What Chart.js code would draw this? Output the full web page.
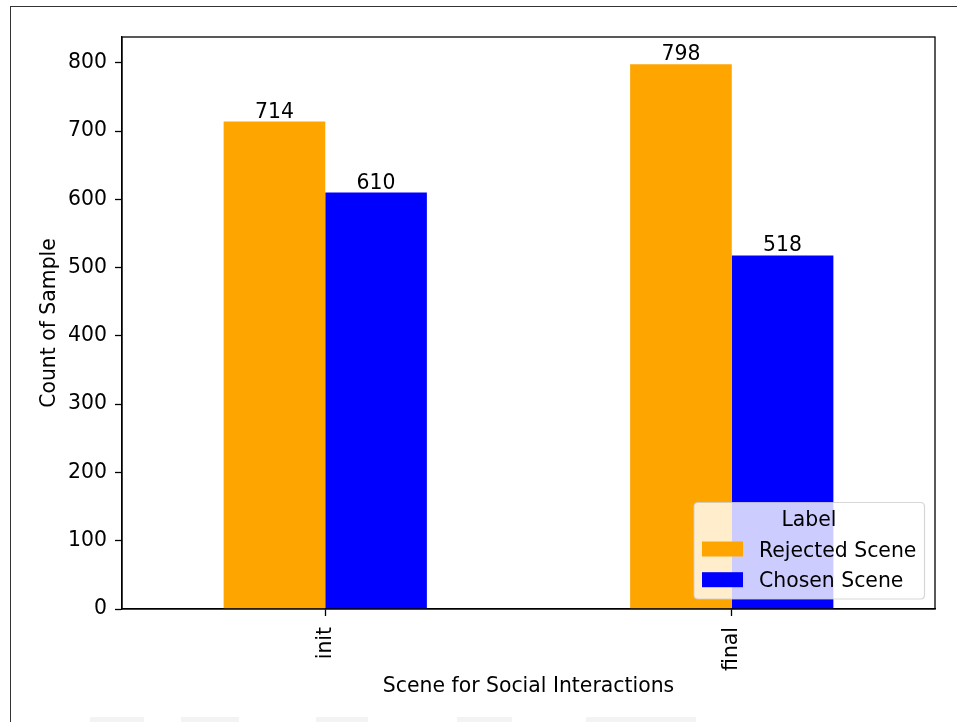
<!DOCTYPE html>
<html>
<head>
<meta charset="utf-8">
<title>Scene for Social Interactions</title>
<script src="https://cdn.jsdelivr.net/npm/chart.js@4/dist/chart.umd.min.js"></script>
<style>
  html, body { margin: 0; padding: 0; background: #ffffff; overflow: hidden; }
  #wrap { position: relative; width: 957px; height: 722px; }
  #frame { position: absolute; left: 10px; top: 5.5px; width: 2000px; height: 2000px;
           border: 1.2px solid #333333; box-sizing: border-box; pointer-events: none; }
  .mark { position: absolute; top: 717px; height: 6px; background: #f3f3f3; }
  canvas { position: absolute; left: 0; top: 0; }
</style>
</head>
<body>
<div id="wrap">
  <div class="mark" style="left:90px;width:54px"></div>
  <div class="mark" style="left:181px;width:58px"></div>
  <div class="mark" style="left:316px;width:52px"></div>
  <div class="mark" style="left:457px;width:55px"></div>
  <div class="mark" style="left:586px;width:110px"></div>
  <canvas id="chart" width="957" height="722"></canvas>
  <div id="frame"></div>
</div>
<script>
// Categories and series
const categories = ['init', 'final'];
const seriesNames = ['Rejected Scene', 'Chosen Scene'];
const rejectedCounts = [714, 798];
const chosenCounts = [610, 518];
const yTicks = [0, 100, 200, 300, 400, 500, 600, 700, 800];

const seriesColors = ['#FFA500', '#0000FF'];
const FONT = '"DejaVu Sans", sans-serif';
const FS = 20.4;

// Value labels above each bar, outer frame of the axes, axis titles and the legend box
const annotate = {
  id: 'annotate',
  afterDatasetsDraw(chart) {
    const ctx = chart.ctx;
    ctx.save();
    ctx.font = FS + 'px ' + FONT;
    ctx.fillStyle = '#000';
    ctx.textAlign = 'center';
    ctx.textBaseline = 'alphabetic';
    chart.data.datasets.forEach((ds, i) => {
      chart.getDatasetMeta(i).data.forEach((bar, j) => {
        ctx.fillText(String(ds.data[j]), bar.x, bar.y - 4);
      });
    });
    ctx.restore();
  },
  afterDraw(chart) {
    const ctx = chart.ctx;
    const a = chart.chartArea;
    ctx.save();
    // frame around the plotting area
    ctx.strokeStyle = '#000';
    ctx.lineWidth = 1.3;
    ctx.strokeRect(a.left, a.top, a.right - a.left, a.bottom - a.top);

    // axis titles
    ctx.fillStyle = '#000';
    ctx.font = FS + 'px ' + FONT;
    ctx.textAlign = 'center';
    ctx.textBaseline = 'alphabetic';
    ctx.fillText('Scene for Social Interactions', (a.left + a.right) / 2, 692);
    ctx.save();
    ctx.translate(55, (a.top + a.bottom) / 2);
    ctx.rotate(-Math.PI / 2);
    ctx.fillText('Count of Sample', 0, 0);
    ctx.restore();

    // legend (lower right, inside the axes)
    const lx = 694, ly = 502.5, lw = 230.5, lh = 96.5, r = 4;
    ctx.beginPath();
    ctx.moveTo(lx + r, ly);
    ctx.lineTo(lx + lw - r, ly);
    ctx.quadraticCurveTo(lx + lw, ly, lx + lw, ly + r);
    ctx.lineTo(lx + lw, ly + lh - r);
    ctx.quadraticCurveTo(lx + lw, ly + lh, lx + lw - r, ly + lh);
    ctx.lineTo(lx + r, ly + lh);
    ctx.quadraticCurveTo(lx, ly + lh, lx, ly + lh - r);
    ctx.lineTo(lx, ly + r);
    ctx.quadraticCurveTo(lx, ly, lx + r, ly);
    ctx.closePath();
    ctx.fillStyle = 'rgba(255,255,255,0.8)';
    ctx.fill();
    ctx.strokeStyle = 'rgba(204,204,204,0.8)';
    ctx.lineWidth = 1.2;
    ctx.stroke();

    ctx.fillStyle = '#000';
    ctx.textAlign = 'center';
    ctx.fillText('Label', 809, 526);
    ctx.textAlign = 'left';
    seriesNames.forEach((name, i) => {
      const y0 = 541.5 + i * 30.7;
      ctx.fillStyle = seriesColors[i];
      ctx.fillRect(702, y0, 41, 15);
      ctx.fillStyle = '#000';
      ctx.fillText(name, 759, y0 + 15);
    });
    ctx.restore();
  }
};

new Chart(document.getElementById('chart'), {
  type: 'bar',
  data: {
    labels: categories,
    datasets: [
      { label: seriesNames[0], data: rejectedCounts, backgroundColor: seriesColors[0] },
      { label: seriesNames[1], data: chosenCounts, backgroundColor: seriesColors[1] }
    ]
  },
  options: {
    responsive: false,
    animation: false,
    devicePixelRatio: 1,
    layout: { padding: { left: 0, top: 37, right: 22, bottom: 0 } },
    datasets: { bar: { barPercentage: 1.0, categoryPercentage: 0.5, borderWidth: 0 } },
    plugins: { legend: { display: false }, tooltip: { enabled: false } },
    scales: {
      x: {
        offset: true,
        grid: { offset: false, drawOnChartArea: false, drawTicks: true, tickLength: 7,
                color: '#000', tickWidth: 1.3 },
        border: { color: '#000', width: 1.3 },
        ticks: { color: '#000', font: { family: FONT, size: FS }, minRotation: 90, maxRotation: 90,
                 padding: 11 },
        afterFit(scale) { scale.height = 113; }
      },
      y: {
        min: 0,
        max: 837.9,
        grid: { drawOnChartArea: false, drawTicks: true, tickLength: 7, color: '#000', tickWidth: 1.3 },
        border: { color: '#000', width: 1.3 },
        ticks: { color: '#000', font: { family: FONT, size: FS }, padding: 8 },
        afterBuildTicks(scale) { scale.ticks = yTicks.map(v => ({ value: v })); },
        afterFit(scale) { scale.width = 122; }
      }
    }
  },
  plugins: [annotate]
});
</script>
</body>
</html>
